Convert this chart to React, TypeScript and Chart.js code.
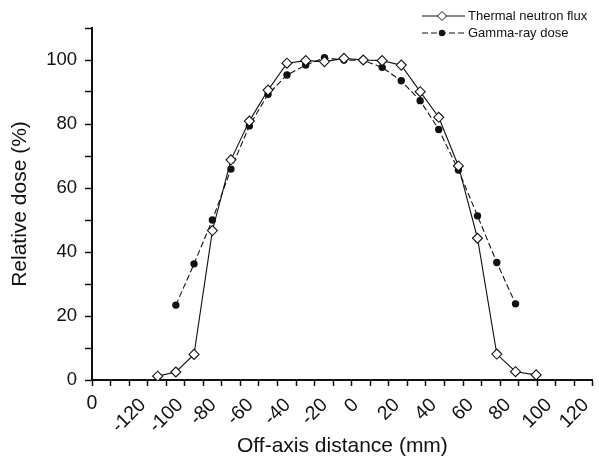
import React, { useEffect, useRef } from 'react';
import { Chart, registerables } from 'chart.js';

Chart.register(...registerables);

// ---- data ----
const thermalX = [-104.6, -94.8, -85.0, -75.1, -65.1, -55.2, -45.1, -34.9, -24.8, -14.7, -4.2, 6.2, 16.4, 26.7, 36.9, 46.9, 57.5, 67.8, 78.2, 88.3, 99.4];
const thermalY = [1.2, 2.5, 8.0, 46.7, 68.8, 80.9, 90.6, 99.0, 99.8, 99.5, 100.5, 100.0, 99.8, 98.4, 90.1, 82.1, 66.9, 44.3, 8.1, 2.6, 1.6];

const gammaX = [-94.8, -85.0, -75.1, -65.1, -55.2, -45.1, -34.9, -24.8, -14.7, -4.2, 6.2, 16.4, 26.7, 36.9, 46.9, 57.5, 67.8, 78.2, 88.3];
const gammaY = [23.4, 36.3, 50.0, 65.9, 79.4, 89.3, 95.3, 98.4, 100.7, 100.0, 99.9, 97.7, 93.5, 87.3, 78.3, 65.6, 51.3, 36.7, 23.8];

const seriesNames = ['Thermal neutron flux', 'Gamma-ray dose'];

const xTickValues = [-140, -120, -100, -80, -60, -40, -20, 0, 20, 40, 60, 80, 100, 120];
const xTickLabels = ['0', '-120', '-100', '-80', '-60', '-40', '-20', '0', '20', '40', '60', '80', '100', '120'];
const yTickValues = [0, 20, 40, 60, 80, 100];
const yTickLabels = ['0', '20', '40', '60', '80', '100'];

const xTitle = 'Off-axis distance (mm)';
const yTitle = 'Relative dose (%)';

const FONT = '"Liberation Sans", Arial, Helvetica, sans-serif';
const INK = '#111';

const decorPlugin = {
  id: 'decor',
  afterDraw(chart: any) {
    const ctx = chart.ctx as CanvasRenderingContext2D;
    const xs = chart.scales.x;
    const top = chart.chartArea.bottom;
    ctx.save();
    ctx.fillStyle = INK;
    ctx.font = `19.5px ${FONT}`;
    xTickValues.forEach((v, i) => {
      const label = xTickLabels[i];
      const px = xs.getPixelForValue(v);
      if (i === 0) {
        ctx.textAlign = 'center';
        ctx.textBaseline = 'middle';
        ctx.fillText(label, px, top + 24);
        return;
      }
      const w = ctx.measureText(label).width;
      const h = 14;
      const ax = px + 0.354 * w;
      const ay = top + 17 + 0.354 * h;
      ctx.save();
      ctx.translate(ax, ay);
      ctx.rotate(-Math.PI / 4);
      ctx.textAlign = 'right';
      ctx.textBaseline = 'middle';
      ctx.fillText(label, 0, 0);
      ctx.restore();
    });

    // legend
    const lx0 = 422, lx1 = 465, mx = 442, tx = 468;
    const rows = [16, 33];
    ctx.strokeStyle = INK;
    ctx.lineWidth = 1;
    ctx.setLineDash([]);
    ctx.beginPath();
    ctx.moveTo(lx0, rows[0]);
    ctx.lineTo(lx1, rows[0]);
    ctx.stroke();
    ctx.beginPath();
    ctx.moveTo(mx - 4.5, rows[0]);
    ctx.lineTo(mx, rows[0] - 4.5);
    ctx.lineTo(mx + 4.5, rows[0]);
    ctx.lineTo(mx, rows[0] + 4.5);
    ctx.closePath();
    ctx.fillStyle = '#fff';
    ctx.fill();
    ctx.stroke();
    ctx.setLineDash([6, 3]);
    ctx.beginPath();
    ctx.moveTo(lx0, rows[1]);
    ctx.lineTo(lx1, rows[1]);
    ctx.stroke();
    ctx.setLineDash([]);
    ctx.beginPath();
    ctx.arc(mx, rows[1], 3.2, 0, Math.PI * 2);
    ctx.fillStyle = INK;
    ctx.fill();

    ctx.fillStyle = INK;
    ctx.font = `13px ${FONT}`;
    ctx.textAlign = 'left';
    ctx.textBaseline = 'middle';
    ctx.fillText(seriesNames[0], tx, rows[0]);
    ctx.fillText(seriesNames[1], tx, rows[1]);
    ctx.restore();
  },
};

export default function App() {
  const canvasRef = useRef<HTMLCanvasElement | null>(null);

  useEffect(() => {
    document.body.style.margin = '0';
    const canvas = canvasRef.current;
    if (!canvas) return;
    const chart = new Chart(canvas, {
      type: 'line',
      data: {
        datasets: [
          {
            label: seriesNames[0],
            data: thermalX.map((x, i) => ({ x, y: thermalY[i] })),
            borderColor: INK,
            borderWidth: 1.1,
            pointStyle: 'rectRot',
            pointRadius: 5,
            pointBackgroundColor: '#fff',
            pointBorderColor: INK,
            pointBorderWidth: 1.1,
            tension: 0,
            fill: false,
          },
          {
            label: seriesNames[1],
            data: gammaX.map((x, i) => ({ x, y: gammaY[i] })),
            borderColor: INK,
            borderWidth: 1.1,
            borderDash: [6, 3],
            pointStyle: 'circle',
            pointRadius: 3.7,
            pointBackgroundColor: INK,
            pointBorderColor: INK,
            pointBorderWidth: 0,
            tension: 0,
            fill: false,
          },
        ],
      },
      options: {
        responsive: false,
        animation: false,
        layout: { padding: { top: 28, right: 3, left: 0, bottom: 0 } },
        plugins: { legend: { display: false }, tooltip: { enabled: false } },
        scales: {
          x: {
            type: 'linear',
            min: -140,
            max: 130,
            afterFit: (s: any) => {
              s.height = 79;
            },
            ticks: { stepSize: 10, display: false, autoSkip: false },
            grid: { drawOnChartArea: false, drawTicks: true, tickLength: 6, tickColor: INK, tickWidth: 1.5 },
            border: { display: true, color: INK, width: 2 },
            title: {
              display: true,
              text: xTitle,
              color: INK,
              font: { family: FONT, size: 21 },
              padding: { top: 0, bottom: 0 },
            },
          },
          y: {
            type: 'linear',
            min: 0,
            max: 110,
            afterFit: (s: any) => {
              s.width = 92;
            },
            ticks: {
              stepSize: 10,
              autoSkip: false,
              color: INK,
              padding: 8,
              font: { family: FONT, size: 18.5 },
              callback: (v: any) => {
                const idx = yTickValues.indexOf(Number(v));
                return idx >= 0 ? yTickLabels[idx] : '';
              },
            },
            grid: { drawOnChartArea: false, drawTicks: true, tickLength: 7, tickColor: INK, tickWidth: 1.5 },
            border: { display: true, color: INK, width: 2 },
            title: {
              display: true,
              text: yTitle,
              color: INK,
              font: { family: FONT, size: 21 },
              padding: { top: 8, bottom: 0 },
            },
          },
        },
      },
      plugins: [decorPlugin],
    });
    return () => chart.destroy();
  }, []);

  return (
    <div style={{ position: 'absolute', left: 0, top: 0, width: 599, height: 459, background: '#fff' }}>
      <canvas ref={canvasRef} width={599} height={459} />
    </div>
  );
}
